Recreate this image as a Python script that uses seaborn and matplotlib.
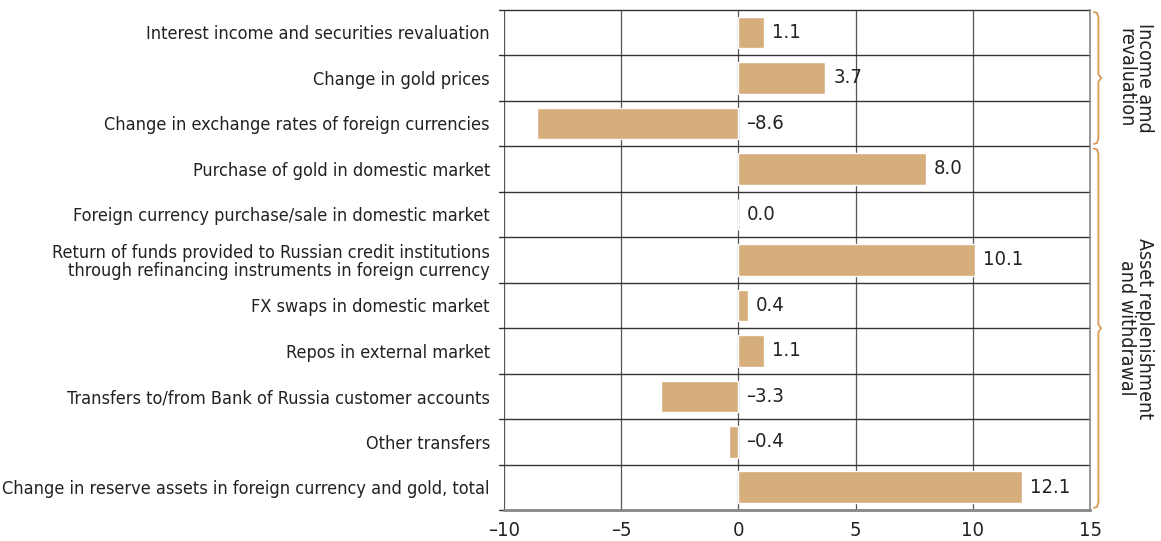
import numpy as np
import pandas as pd
import matplotlib
matplotlib.use("Agg")
import matplotlib.pyplot as plt
import matplotlib.transforms as mtransforms
import seaborn as sns

categories = [
    "Interest income and securities revaluation",
    "Change in gold prices",
    "Change in exchange rates of foreign currencies",
    "Purchase of gold in domestic market",
    "Foreign currency purchase/sale in domestic market",
    "Return of funds provided to Russian credit institutions\nthrough refinancing instruments in foreign currency",
    "FX swaps in domestic market",
    "Repos in external market",
    "Transfers to/from Bank of Russia customer accounts",
    "Other transfers",
    "Change in reserve assets in foreign currency and gold, total",
]
values = [1.1, 3.7, -8.6, 8.0, 0.0, 10.1, 0.4, 1.1, -3.3, -0.4, 12.1]
x_ticks = [-10, -5, 0, 5, 10, 15]
groups = [("Income amd\nrevaluation", 0, 2), ("Asset replenishment\nand withdrawal", 3, 10)]

df = pd.DataFrame({"category": categories, "value": values})

sns.set_style("white")
plt.rcParams["font.family"] = ["DejaVu Sans"]
plt.rcParams["font.stretch"] = "condensed"
plt.rcParams["axes.unicode_minus"] = False

bar_color = "#D6AE7B"
brace_color = "#D99A55"

fig = plt.figure(figsize=(11.61, 5.41), dpi=100)
ax = fig.add_axes([0.434, 0.057, 0.505, 0.925])

sns.barplot(data=df, x="value", y="category", color=bar_color, saturation=1,
            width=0.7, ax=ax, zorder=3)

ax.set_xlim(-10, 15)
ax.set_ylim(len(categories) - 0.5, -0.5)
ax.set_xticks(x_ticks)
ax.set_xticklabels([str(t).replace("-", "\u2013") for t in x_ticks], fontsize=14.5)
ax.set_xlabel("")
ax.set_ylabel("")
ax.tick_params(axis="y", labelsize=13, length=0, pad=10, labelcolor="#222222")
ax.tick_params(axis="x", length=4, width=1.2, color="#777777", pad=4, labelcolor="#222222")
for lab in ax.get_yticklabels():
    lab.set_linespacing(1.0)

# vertical grid
for t in x_ticks:
    ax.axvline(t, color="#555555", lw=0.9, zorder=1)

# row separators extend slightly left
for b in np.arange(-0.5, len(categories) + 0.5, 1.0):
    ax.plot([-10.2, 15], [b, b], color="#333333", lw=1.0, clip_on=False, zorder=2)

for s in ["left", "top"]:
    ax.spines[s].set_visible(False)
ax.spines["bottom"].set_color("#888888")
ax.spines["bottom"].set_linewidth(2)
ax.spines["right"].set_color("#888888")
ax.spines["right"].set_linewidth(1.2)

# value labels
for i, v in enumerate(values):
    x = max(v, 0) + 0.35
    txt = f"{v:.1f}".replace("-", "\u2013")
    ax.text(x, i, txt, va="center", ha="left", fontsize=14.5, color="#222222", zorder=4)

# braces on the right
trans = mtransforms.blended_transform_factory(ax.transAxes, ax.transData)
x0 = 1.006
w = 0.008
for label, a, b in groups:
    top = a - 0.45
    bot = b + 0.45
    mid = (top + bot) / 2
    r = 0.12
    xs = [x0, x0 + w * 0.7, x0 + w, x0 + w, x0 + w * 1.6, x0 + w, x0 + w, x0 + w * 0.7, x0]
    ys = [top, top + 0.02, top + r, mid - 0.08, mid, mid + 0.08, bot - r, bot - 0.02, bot]
    ax.plot(xs, ys, color=brace_color, lw=1.3, transform=trans, clip_on=False)
    ax.text(1.077, mid, label, rotation=-90, va="center", ha="center", fontsize=14,
            color="#222222", transform=trans, linespacing=0.95)

fig.savefig("out.png", dpi=100)
